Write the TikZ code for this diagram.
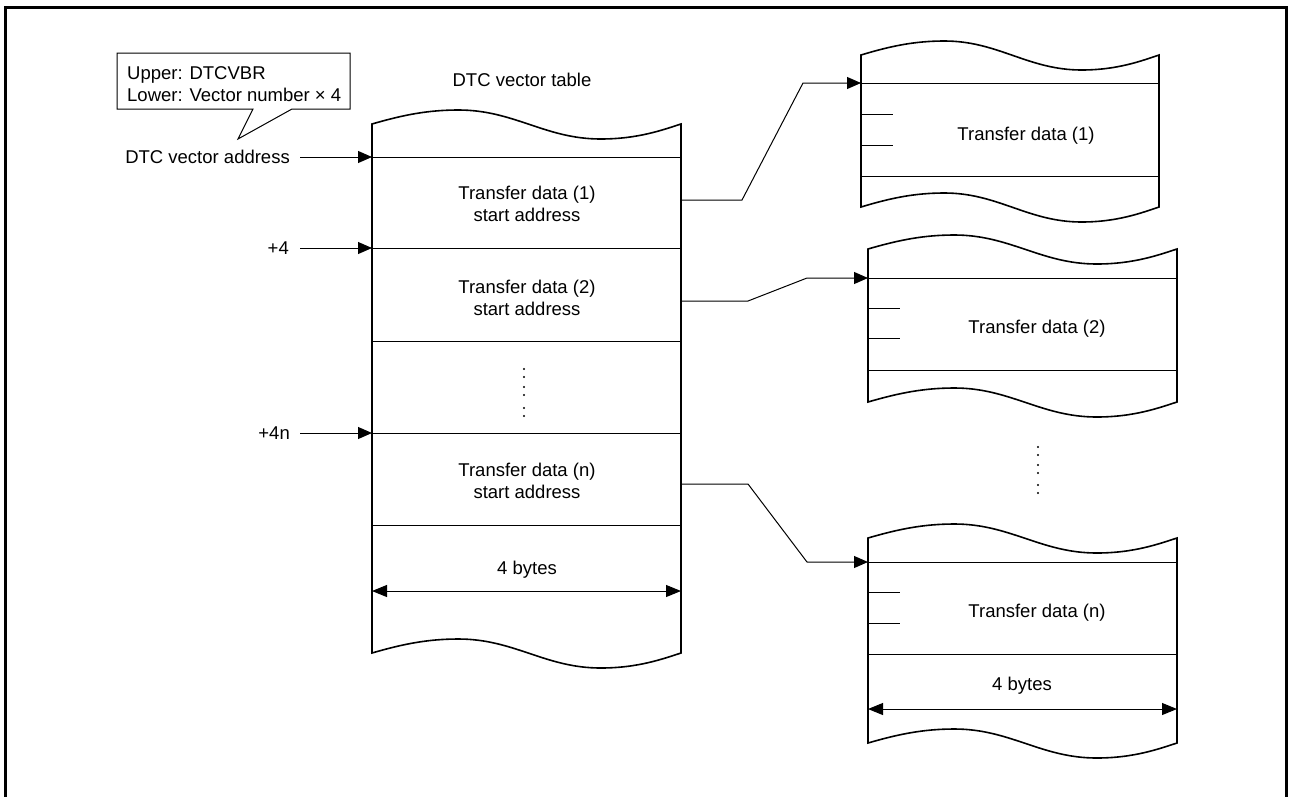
\documentclass[tikz,border=0pt]{standalone}
\usepackage{fontspec}
\setmainfont{Liberation Sans}
\usetikzlibrary{arrows.meta}
\tikzset{
  txt/.style={font=\fontsize{18.5}{22}\selectfont, inner sep=0pt, align=center},
  outline/.style={line width=1.6pt},
  sep/.style={line width=1pt},
  conn/.style={line width=1pt, -{Triangle[length=14pt,width=12pt]}},
  dimarrow/.style={line width=1pt, {Triangle[length=15pt,width=12pt]}-{Triangle[length=15pt,width=12pt]}},
  dotmark/.style={fill=black, inner sep=0pt, minimum size=2.4pt, circle},
}
\newcommand\memblk[4]{%
 \draw[outline] (#1,#4) -- (#1,#3)
  .. controls ({#1+0.1*(#2-#1)},{#3-9}) and ({#1+0.18*(#2-#1)},{#3-14}) .. ({#1+0.28*(#2-#1)},{#3-14})
  .. controls ({#1+0.46*(#2-#1)},{#3-14}) and ({#1+0.56*(#2-#1)},{#3+15}) .. ({#1+0.74*(#2-#1)},{#3+15})
  .. controls ({#1+0.86*(#2-#1)},{#3+15}) and ({#1+0.94*(#2-#1)},{#3+6}) .. (#2,#3)
  -- (#2,#4)
  .. controls ({#1+0.94*(#2-#1)},{#4+6}) and ({#1+0.86*(#2-#1)},{#4+15}) .. ({#1+0.74*(#2-#1)},{#4+15})
  .. controls ({#1+0.56*(#2-#1)},{#4+15}) and ({#1+0.46*(#2-#1)},{#4-14}) .. ({#1+0.28*(#2-#1)},{#4-14})
  .. controls ({#1+0.18*(#2-#1)},{#4-14}) and ({#1+0.1*(#2-#1)},{#4-9}) .. cycle;}
\begin{document}
\begin{tikzpicture}[x=1pt,y=-1pt]
\useasboundingbox (0,0) rectangle (1289,796);
% frame
\draw[line width=3pt] (5,797) -- (5,7) -- (1286,7) -- (1286,797);

% callout
\draw[sep] (117,53) -- (350,53) -- (350,109) -- (292,109) -- (238,139) -- (253,109) -- (117,109) -- cycle;
\node[txt, anchor=west, align=left] (callout) at (127,84) {Upper: DTCVBR\\Lower: Vector number × 4};

% vector table
\node[txt] (vtitle) at (522,80) {DTC vector table};
\memblk{372}{681}{124}{653}
\foreach \yy/\nm in {157/l0,248/l1,341/l2,433/l3,525/l4}{
  \coordinate (\nm w) at (372,\yy);
  \coordinate (\nm e) at (681,\yy);
  \draw[sep] (\nm w) -- (\nm e);
}
\node[txt] (v1) at (527,204) {Transfer data (1)\\start address};
\node[txt] (v2) at (527,298) {Transfer data (2)\\start address};
\node[txt] (vn) at (527,481) {Transfer data (n)\\start address};
\foreach \yy [count=\i] in {369,377,387,395,408,416}
  \node[dotmark] (ld\i) at (524,\yy) {};
\node[txt] (vb) at (527,570) {4 bytes};
\coordinate (vdl) at (372,591);
\coordinate (vdr) at (681,591);
\draw[dimarrow] (vdl) -- (vdr);

% address labels
\node[txt, anchor=east] (a0) at (290,157) {DTC vector address};
\node[txt, anchor=east] (a1) at (289,248) {+4};
\node[txt, anchor=east] (an) at (290,433) {+4n};
\coordinate (a0s) at (300,157);
\coordinate (a1s) at (300,248);
\coordinate (ans) at (300,433);
\draw[conn] (a0s) -- (l0w);
\draw[conn] (a1s) -- (l1w);
\draw[conn] (ans) -- (l3w);

% right block 1
\memblk{861}{1159}{55}{207}
\coordinate (b1in) at (861,83);
\draw[sep] (b1in) -- (1159,83);
\draw[sep] (861,176) -- (1159,176);
\draw[sep] (861,114) -- (893,114);
\draw[sep] (861,145) -- (893,145);
\node[txt] (d1) at (1026,136) {Transfer data (1)};

% right block 2
\memblk{868}{1177}{249}{402}
\coordinate (b2in) at (868,278);
\draw[sep] (b2in) -- (1177,278);
\draw[sep] (868,370) -- (1177,370);
\draw[sep] (868,308) -- (900,308);
\draw[sep] (868,338) -- (900,338);
\node[txt] (d2) at (1037,329) {Transfer data (2)};

\foreach \yy [count=\i] in {447,455,465,473,485,493}
  \node[dotmark] (rd\i) at (1038,\yy) {};

% right block n
\memblk{868}{1177}{538}{743}
\coordinate (b3in) at (868,562);
\draw[sep] (b3in) -- (1177,562);
\draw[sep] (868,654) -- (1177,654);
\draw[sep] (868,592) -- (900,592);
\draw[sep] (868,623) -- (900,623);
\node[txt] (d3) at (1037,613) {Transfer data (n)};
\node[txt] (db) at (1022,686) {4 bytes};
\coordinate (rdl) at (868,709);
\coordinate (rdr) at (1177,709);
\draw[dimarrow] (rdl) -- (rdr);

% connectors
\coordinate (s1) at (681,200);
\coordinate (s2) at (681,301);
\coordinate (s3) at (681,484);
\draw[conn] (s1) -- (742,200) -- (803,83) -- (b1in);
\draw[conn] (s2) -- (748,301) -- (807,278) -- (b2in);
\draw[conn] (s3) -- (748,484) -- (807,562) -- (b3in);
\end{tikzpicture}
\end{document}
